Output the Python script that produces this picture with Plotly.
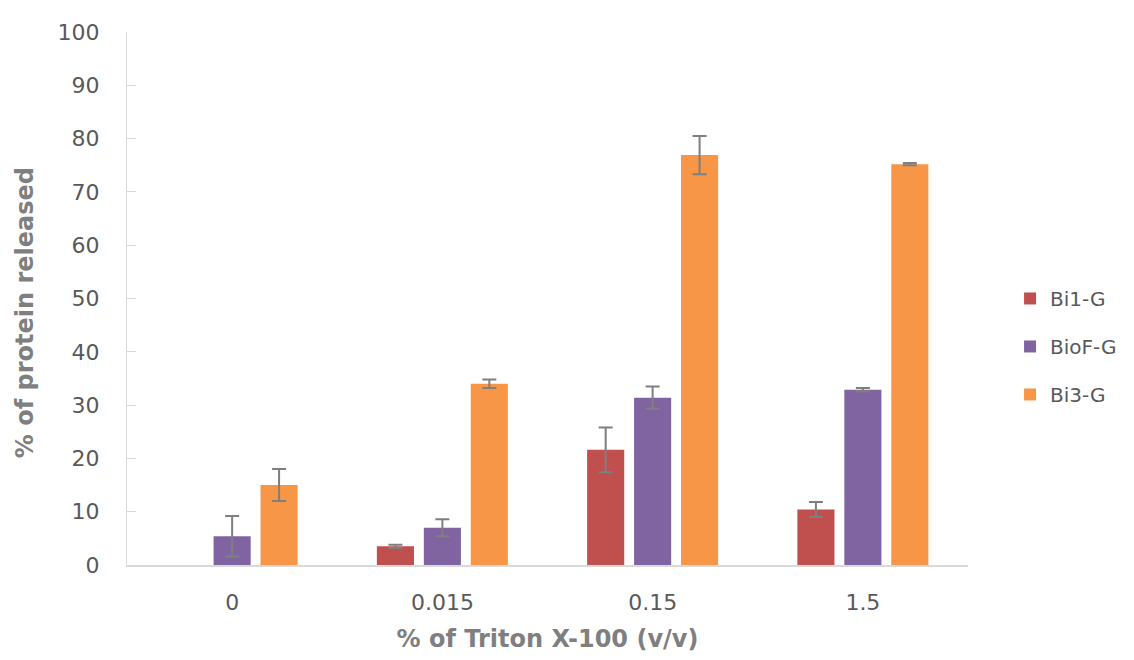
import plotly.graph_objects as go

categories = ["0", "0.015", "0.15", "1.5"]
series_names = ["Bi1-G", "BioF-G", "Bi3-G"]
bi1_g = [None, 3.5, 21.6, 10.4]
bi1_g_err = [None, 0.3, 4.2, 1.4]
biof_g = [5.4, 7.0, 31.4, 32.9]
biof_g_err = [3.8, 1.6, 2.1, 0.3]
bi3_g = [15.0, 34.0, 76.9, 75.2]
bi3_g_err = [3.0, 0.8, 3.6, 0.2]
y_ticks = [0, 10, 20, 30, 40, 50, 60, 70, 80, 90, 100]

colors = ["#C0504D", "#8064A2", "#F79646"]
values = [bi1_g, biof_g, bi3_g]
errors = [bi1_g_err, biof_g_err, bi3_g_err]

fig = go.Figure()
for i, name in enumerate(series_names):
    fig.add_trace(go.Bar(
        x=categories, y=values[i], name=name,
        marker=dict(color=colors[i], line=dict(width=0)),
        legendgroup=name,
        error_y=dict(type="data", array=errors[i], visible=True,
                     color="#7F7F7F", thickness=2, width=7),
    ))

font_family = "DejaVu Sans, sans-serif"
fig.update_layout(
    width=1126, height=652,
    margin=dict(l=119, r=162, t=19, b=92),
    paper_bgcolor="white", plot_bgcolor="white",
    barmode="group", bargap=0.33, bargroupgap=0.21,
    font=dict(family=font_family, color="#595959"),
    legend=dict(x=1.05, y=0.41, xanchor="left", yanchor="middle",
                font=dict(size=20, color="#595959"),
                tracegroupgap=19, itemwidth=30),
    showlegend=True,
)
fig.update_yaxes(
    range=[0, 100], tickvals=y_ticks, showgrid=False,
    showline=True, linecolor="#D9D9D9", linewidth=1,
    ticks="inside", tickcolor="#D9D9D9", ticklen=9,
    ticklabelstandoff=22,
    tickfont=dict(size=22, color="#595959"),
    zeroline=False,
)
fig.update_xaxes(
    showgrid=False, showline=True, linecolor="#D9D9D9", linewidth=2,
    ticks="", tickfont=dict(size=22, color="#595959"),
    ticklabelstandoff=17,
    title=dict(text="<b>% of Triton X-100 (v/v)</b>", font=dict(size=24, color="#7F7F7F"), standoff=16),
)
fig.add_annotation(
    text="<b>% of protein released</b>", textangle=-90,
    xref="paper", yref="paper", x=-0.121, y=0.473,
    xanchor="center", yanchor="middle", showarrow=False,
    font=dict(size=24, color="#7F7F7F"),
)

fig.write_html("out.html")
